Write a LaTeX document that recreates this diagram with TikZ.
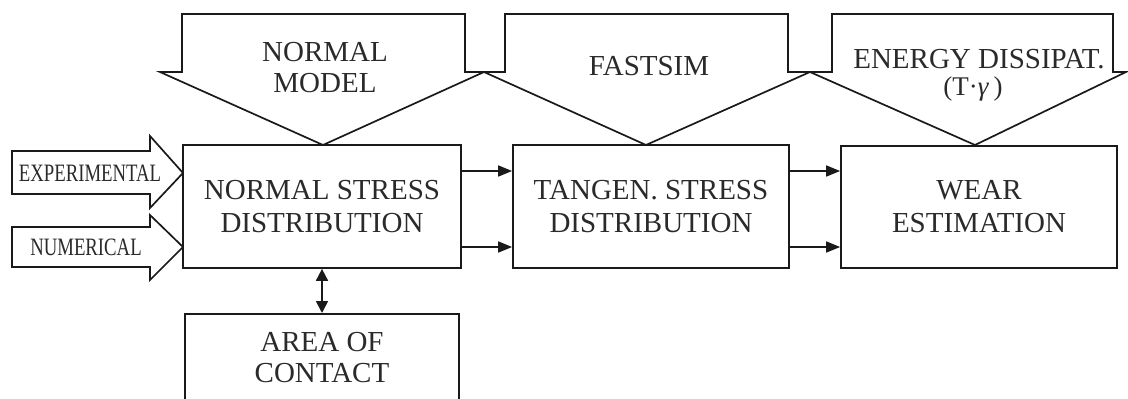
\documentclass[tikz,border=0pt]{standalone}
\usepackage{fontspec}
\setmainfont{Liberation Serif}
\usepackage{graphicx}
\usetikzlibrary{arrows.meta}
\definecolor{ink}{HTML}{1A1A1A}
\definecolor{txtc}{HTML}{2A2A2A}
\begin{document}
\begin{tikzpicture}[x=1pt,y=-1pt,
  boxnode/.style={draw=ink, fill=white, line width=1.7pt, inner sep=0pt, align=center, text=txtc, font=\fontsize{29}{33}\selectfont},
  toptext/.style={inner sep=0pt, align=center, text=txtc, font=\fontsize{29}{31}\selectfont},
  sidetext/.style={inner sep=0pt, text=txtc, font=\fontsize{25}{25}\selectfont},
  blockarrow/.style={draw=ink, fill=white, line width=1.7pt, line join=miter},
  arr/.style={draw=ink, line width=1.7pt, -{Triangle[length=14pt,width=11pt]}},
  darr/.style={draw=ink, line width=1.7pt, {Triangle[length=12pt,width=12pt]}-{Triangle[length=12pt,width=12pt]}},
]
\useasboundingbox (0,0) rectangle (1128,399);
\clip (0,0) rectangle (1128,399);

% top block arrows
\draw[blockarrow] (182,14) -- (465,14) -- (465,72) -- (484,72) -- (323,145) -- (160,72) -- (182,72) -- cycle;
\draw[blockarrow] (505,14) -- (788,14) -- (788,72) -- (810,72) -- (646,145) -- (484,72) -- (505,72) -- cycle;
\draw[blockarrow] (832,14) -- (1113,14) -- (1113,72) -- (1126,72) -- (975,145) -- (810,72) -- (832,72) -- cycle;
\node[toptext] (nm) at (325,67.5) {NORMAL\\MODEL};
\node[toptext] (fs) at (649,66) {FASTSIM};
\node[toptext] (ed1) at (979,59) {ENERGY DISSIPAT.};
\node[inner sep=0pt, text=txtc, font=\fontsize{27}{27}\selectfont] (ed2) at (973,89) {(T·\textit{γ}\,)};

% left input block arrows
\draw[blockarrow] (12,151) -- (150,151) -- (150,136) -- (183,173) -- (150,208) -- (150,194) -- (12,194) -- cycle;
\draw[blockarrow] (12,227) -- (150,227) -- (150,215) -- (183,247) -- (150,280) -- (150,267) -- (12,267) -- cycle;
\node[sidetext] (exp) at (90,173) {\scalebox{0.75}[1]{EXPERIMENTAL}};
\node[sidetext] (num) at (86,247) {\scalebox{0.75}[1]{NUMERICAL}};

% boxes
\node[boxnode, minimum width=278pt, minimum height=123pt] (ns) at (322,206.5) {NORMAL STRESS\\DISTRIBUTION};
\node[boxnode, minimum width=276pt, minimum height=123pt] (ts) at (651,206.5) {TANGEN. STRESS\\DISTRIBUTION};
\node[boxnode, minimum width=276pt, minimum height=122pt] (we) at (979,207) {WEAR\\ESTIMATION};
\node[boxnode, minimum width=274pt, minimum height=110pt, anchor=north] (ar) at (322,313) {};
\node[inner sep=0pt, align=center, text=txtc, font=\fontsize{29}{31}\selectfont] (art) at (322,357.5) {AREA OF\\CONTACT};

% connectors
\draw[arr] (ns.east |- 0,171) -- (ts.west |- 0,171);
\draw[arr] (ns.east |- 0,247) -- (ts.west |- 0,247);
\draw[arr] (ts.east |- 0,171) -- (we.west |- 0,171);
\draw[arr] (ts.east |- 0,247) -- (we.west |- 0,247);
\draw[darr] (ns.south) -- (ar.north);
\end{tikzpicture}
\end{document}
